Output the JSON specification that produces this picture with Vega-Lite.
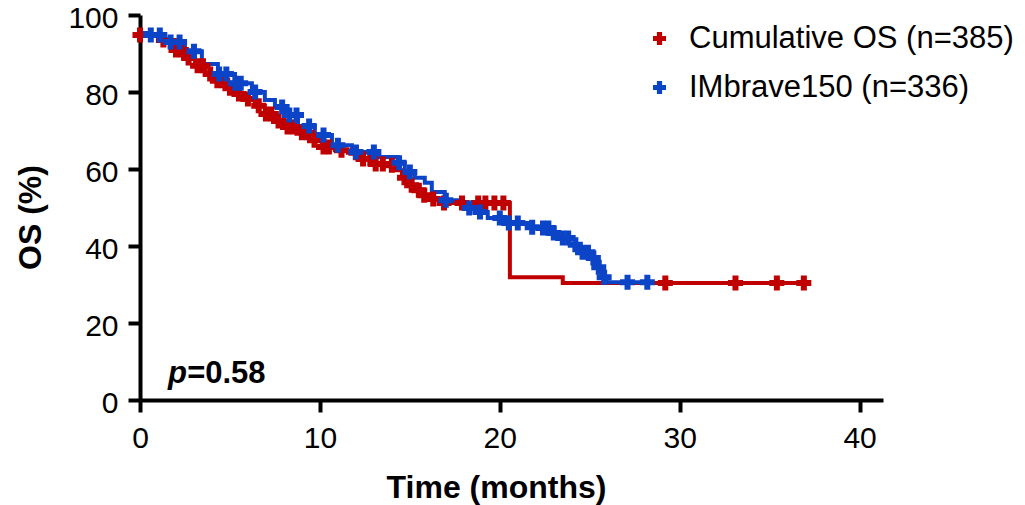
{
  "$schema": "https://vega.github.io/schema/vega-lite/v6.json",
  "width": 743,
  "height": 385,
  "autosize": "none",
  "padding": {"left": 140, "top": 15, "right": 142, "bottom": 105},
  "background": "white",
  "config": {
    "font": "Liberation Sans",
    "view": {"stroke": null},
    "axis": {
      "grid": false,
      "domainColor": "black",
      "domainWidth": 4,
      "tickColor": "black",
      "tickWidth": 4,
      "tickSize": 12,
      "labelFont": "Liberation Sans",
      "labelFontSize": 30,
      "labelColor": "black",
      "titleFont": "Liberation Sans",
      "titleFontSize": 32,
      "titleFontWeight": "bold",
      "titleColor": "black"
    }
  },
  "datasets": {
    "steps": [
      {"series": "Cumulative OS (n=385)", "t": 0, "s": 94.8},
      {"series": "Cumulative OS (n=385)", "t": 1.11, "s": 93.5},
      {"series": "Cumulative OS (n=385)", "t": 1.94, "s": 90.9},
      {"series": "Cumulative OS (n=385)", "t": 2.5, "s": 88.8},
      {"series": "Cumulative OS (n=385)", "t": 3.06, "s": 86.8},
      {"series": "Cumulative OS (n=385)", "t": 3.61, "s": 84.7},
      {"series": "Cumulative OS (n=385)", "t": 4.17, "s": 82.9},
      {"series": "Cumulative OS (n=385)", "t": 4.72, "s": 81.0},
      {"series": "Cumulative OS (n=385)", "t": 5.28, "s": 79.5},
      {"series": "Cumulative OS (n=385)", "t": 5.83, "s": 78.2},
      {"series": "Cumulative OS (n=385)", "t": 6.39, "s": 76.4},
      {"series": "Cumulative OS (n=385)", "t": 6.94, "s": 74.3},
      {"series": "Cumulative OS (n=385)", "t": 7.5, "s": 72.5},
      {"series": "Cumulative OS (n=385)", "t": 8.06, "s": 70.9},
      {"series": "Cumulative OS (n=385)", "t": 8.78, "s": 69.4},
      {"series": "Cumulative OS (n=385)", "t": 9.44, "s": 67.5},
      {"series": "Cumulative OS (n=385)", "t": 10.11, "s": 65.7},
      {"series": "Cumulative OS (n=385)", "t": 10.83, "s": 64.9},
      {"series": "Cumulative OS (n=385)", "t": 11.56, "s": 64.2},
      {"series": "Cumulative OS (n=385)", "t": 12.22, "s": 62.6},
      {"series": "Cumulative OS (n=385)", "t": 12.89, "s": 61.3},
      {"series": "Cumulative OS (n=385)", "t": 13.61, "s": 61.0},
      {"series": "Cumulative OS (n=385)", "t": 14.17, "s": 59.7},
      {"series": "Cumulative OS (n=385)", "t": 14.56, "s": 57.7},
      {"series": "Cumulative OS (n=385)", "t": 14.89, "s": 55.8},
      {"series": "Cumulative OS (n=385)", "t": 15.28, "s": 54.5},
      {"series": "Cumulative OS (n=385)", "t": 15.67, "s": 53.2},
      {"series": "Cumulative OS (n=385)", "t": 16.11, "s": 52.2},
      {"series": "Cumulative OS (n=385)", "t": 16.67, "s": 51.2},
      {"series": "Cumulative OS (n=385)", "t": 20.56, "s": 31.9},
      {"series": "Cumulative OS (n=385)", "t": 23.5, "s": 30.4},
      {"series": "Cumulative OS (n=385)", "t": 36.94, "s": 30.4},
      {"series": "IMbrave150 (n=336)", "t": 0, "s": 95.3},
      {"series": "IMbrave150 (n=336)", "t": 0.56, "s": 94.8},
      {"series": "IMbrave150 (n=336)", "t": 1.39, "s": 93.0},
      {"series": "IMbrave150 (n=336)", "t": 2.5, "s": 90.6},
      {"series": "IMbrave150 (n=336)", "t": 3.44, "s": 87.3},
      {"series": "IMbrave150 (n=336)", "t": 4.33, "s": 84.7},
      {"series": "IMbrave150 (n=336)", "t": 5.28, "s": 82.3},
      {"series": "IMbrave150 (n=336)", "t": 6.22, "s": 80.0},
      {"series": "IMbrave150 (n=336)", "t": 6.94, "s": 77.9},
      {"series": "IMbrave150 (n=336)", "t": 7.5, "s": 76.1},
      {"series": "IMbrave150 (n=336)", "t": 8.06, "s": 74.0},
      {"series": "IMbrave150 (n=336)", "t": 8.78, "s": 71.2},
      {"series": "IMbrave150 (n=336)", "t": 9.72, "s": 68.8},
      {"series": "IMbrave150 (n=336)", "t": 10.67, "s": 66.2},
      {"series": "IMbrave150 (n=336)", "t": 11.78, "s": 64.4},
      {"series": "IMbrave150 (n=336)", "t": 13.06, "s": 63.1},
      {"series": "IMbrave150 (n=336)", "t": 14.33, "s": 61.6},
      {"series": "IMbrave150 (n=336)", "t": 14.72, "s": 59.2},
      {"series": "IMbrave150 (n=336)", "t": 15.28, "s": 57.7},
      {"series": "IMbrave150 (n=336)", "t": 15.83, "s": 56.4},
      {"series": "IMbrave150 (n=336)", "t": 16.22, "s": 54.0},
      {"series": "IMbrave150 (n=336)", "t": 16.94, "s": 51.9},
      {"series": "IMbrave150 (n=336)", "t": 17.89, "s": 49.9},
      {"series": "IMbrave150 (n=336)", "t": 18.61, "s": 48.8},
      {"series": "IMbrave150 (n=336)", "t": 19.33, "s": 47.3},
      {"series": "IMbrave150 (n=336)", "t": 20.28, "s": 46.0},
      {"series": "IMbrave150 (n=336)", "t": 21.56, "s": 44.9},
      {"series": "IMbrave150 (n=336)", "t": 22.39, "s": 44.7},
      {"series": "IMbrave150 (n=336)", "t": 22.94, "s": 43.4},
      {"series": "IMbrave150 (n=336)", "t": 23.33, "s": 42.1},
      {"series": "IMbrave150 (n=336)", "t": 23.89, "s": 40.3},
      {"series": "IMbrave150 (n=336)", "t": 24.44, "s": 38.4},
      {"series": "IMbrave150 (n=336)", "t": 25.0, "s": 36.9},
      {"series": "IMbrave150 (n=336)", "t": 25.39, "s": 34.5},
      {"series": "IMbrave150 (n=336)", "t": 25.67, "s": 31.9},
      {"series": "IMbrave150 (n=336)", "t": 25.94, "s": 30.6},
      {"series": "IMbrave150 (n=336)", "t": 28.17, "s": 30.6}
    ],
    "censor": [
      {"series": "Cumulative OS (n=385)", "t": 0, "s": 94.8},
      {"series": "Cumulative OS (n=385)", "t": 1.3, "s": 93.5},
      {"series": "Cumulative OS (n=385)", "t": 2.0, "s": 90.9},
      {"series": "Cumulative OS (n=385)", "t": 2.3, "s": 90.9},
      {"series": "Cumulative OS (n=385)", "t": 2.7, "s": 88.8},
      {"series": "Cumulative OS (n=385)", "t": 3.2, "s": 86.8},
      {"series": "Cumulative OS (n=385)", "t": 3.5, "s": 86.8},
      {"series": "Cumulative OS (n=385)", "t": 3.9, "s": 84.7},
      {"series": "Cumulative OS (n=385)", "t": 4.3, "s": 82.9},
      {"series": "Cumulative OS (n=385)", "t": 4.6, "s": 82.9},
      {"series": "Cumulative OS (n=385)", "t": 5.0, "s": 81.0},
      {"series": "Cumulative OS (n=385)", "t": 5.5, "s": 79.5},
      {"series": "Cumulative OS (n=385)", "t": 6.0, "s": 78.2},
      {"series": "Cumulative OS (n=385)", "t": 6.6, "s": 76.4},
      {"series": "Cumulative OS (n=385)", "t": 7.0, "s": 74.3},
      {"series": "Cumulative OS (n=385)", "t": 7.3, "s": 74.3},
      {"series": "Cumulative OS (n=385)", "t": 7.7, "s": 72.5},
      {"series": "Cumulative OS (n=385)", "t": 8.2, "s": 70.9},
      {"series": "Cumulative OS (n=385)", "t": 8.5, "s": 70.9},
      {"series": "Cumulative OS (n=385)", "t": 9.0, "s": 69.4},
      {"series": "Cumulative OS (n=385)", "t": 9.3, "s": 69.4},
      {"series": "Cumulative OS (n=385)", "t": 9.7, "s": 67.5},
      {"series": "Cumulative OS (n=385)", "t": 10.2, "s": 65.7},
      {"series": "Cumulative OS (n=385)", "t": 10.5, "s": 65.7},
      {"series": "Cumulative OS (n=385)", "t": 11.2, "s": 64.9},
      {"series": "Cumulative OS (n=385)", "t": 12.0, "s": 64.2},
      {"series": "Cumulative OS (n=385)", "t": 12.4, "s": 62.6},
      {"series": "Cumulative OS (n=385)", "t": 12.8, "s": 62.6},
      {"series": "Cumulative OS (n=385)", "t": 13.1, "s": 61.3},
      {"series": "Cumulative OS (n=385)", "t": 13.5, "s": 61.3},
      {"series": "Cumulative OS (n=385)", "t": 14.0, "s": 61.0},
      {"series": "Cumulative OS (n=385)", "t": 14.7, "s": 57.7},
      {"series": "Cumulative OS (n=385)", "t": 15.1, "s": 55.8},
      {"series": "Cumulative OS (n=385)", "t": 15.5, "s": 54.5},
      {"series": "Cumulative OS (n=385)", "t": 15.8, "s": 53.2},
      {"series": "Cumulative OS (n=385)", "t": 16.3, "s": 52.2},
      {"series": "Cumulative OS (n=385)", "t": 16.9, "s": 51.2},
      {"series": "Cumulative OS (n=385)", "t": 17.9, "s": 51.2},
      {"series": "Cumulative OS (n=385)", "t": 18.8, "s": 51.2},
      {"series": "Cumulative OS (n=385)", "t": 19.2, "s": 51.2},
      {"series": "Cumulative OS (n=385)", "t": 19.7, "s": 51.2},
      {"series": "Cumulative OS (n=385)", "t": 20.2, "s": 51.2},
      {"series": "Cumulative OS (n=385)", "t": 29.2, "s": 30.4},
      {"series": "Cumulative OS (n=385)", "t": 33.1, "s": 30.4},
      {"series": "Cumulative OS (n=385)", "t": 35.4, "s": 30.4},
      {"series": "Cumulative OS (n=385)", "t": 36.9, "s": 30.4},
      {"series": "IMbrave150 (n=336)", "t": 0.6, "s": 94.8},
      {"series": "IMbrave150 (n=336)", "t": 1.1, "s": 94.8},
      {"series": "IMbrave150 (n=336)", "t": 1.7, "s": 93.0},
      {"series": "IMbrave150 (n=336)", "t": 2.2, "s": 93.0},
      {"series": "IMbrave150 (n=336)", "t": 3.0, "s": 90.6},
      {"series": "IMbrave150 (n=336)", "t": 4.4, "s": 84.7},
      {"series": "IMbrave150 (n=336)", "t": 4.8, "s": 84.7},
      {"series": "IMbrave150 (n=336)", "t": 5.3, "s": 82.3},
      {"series": "IMbrave150 (n=336)", "t": 5.6, "s": 82.3},
      {"series": "IMbrave150 (n=336)", "t": 6.4, "s": 80.0},
      {"series": "IMbrave150 (n=336)", "t": 7.9, "s": 76.1},
      {"series": "IMbrave150 (n=336)", "t": 8.3, "s": 74.0},
      {"series": "IMbrave150 (n=336)", "t": 8.7, "s": 74.0},
      {"series": "IMbrave150 (n=336)", "t": 9.4, "s": 71.2},
      {"series": "IMbrave150 (n=336)", "t": 10.2, "s": 68.8},
      {"series": "IMbrave150 (n=336)", "t": 11.0, "s": 66.2},
      {"series": "IMbrave150 (n=336)", "t": 12.0, "s": 64.4},
      {"series": "IMbrave150 (n=336)", "t": 13.0, "s": 64.4},
      {"series": "IMbrave150 (n=336)", "t": 14.4, "s": 61.6},
      {"series": "IMbrave150 (n=336)", "t": 15.0, "s": 59.2},
      {"series": "IMbrave150 (n=336)", "t": 17.0, "s": 51.9},
      {"series": "IMbrave150 (n=336)", "t": 18.3, "s": 49.9},
      {"series": "IMbrave150 (n=336)", "t": 18.9, "s": 48.8},
      {"series": "IMbrave150 (n=336)", "t": 20.0, "s": 47.3},
      {"series": "IMbrave150 (n=336)", "t": 20.5, "s": 46.0},
      {"series": "IMbrave150 (n=336)", "t": 21.0, "s": 46.0},
      {"series": "IMbrave150 (n=336)", "t": 21.8, "s": 44.9},
      {"series": "IMbrave150 (n=336)", "t": 22.4, "s": 44.7},
      {"series": "IMbrave150 (n=336)", "t": 22.7, "s": 44.7},
      {"series": "IMbrave150 (n=336)", "t": 23.0, "s": 43.4},
      {"series": "IMbrave150 (n=336)", "t": 23.5, "s": 42.1},
      {"series": "IMbrave150 (n=336)", "t": 23.8, "s": 42.1},
      {"series": "IMbrave150 (n=336)", "t": 24.2, "s": 40.3},
      {"series": "IMbrave150 (n=336)", "t": 24.6, "s": 38.4},
      {"series": "IMbrave150 (n=336)", "t": 24.9, "s": 38.4},
      {"series": "IMbrave150 (n=336)", "t": 25.2, "s": 36.9},
      {"series": "IMbrave150 (n=336)", "t": 25.5, "s": 34.5},
      {"series": "IMbrave150 (n=336)", "t": 25.8, "s": 31.9},
      {"series": "IMbrave150 (n=336)", "t": 27.1, "s": 30.6},
      {"series": "IMbrave150 (n=336)", "t": 28.2, "s": 30.6}
    ],
    "notes": [
      {"part": "p", "t": 1.56, "s": 4.4},
      {"part": "=0.58", "t": 2.62, "s": 4.4}
    ]
  },
  "resolve": {"legend": {"color": "independent"}},
  "layer": [
    {
      "data": {"name": "steps"},
      "transform": [{"filter": "datum.series === 'Cumulative OS (n=385)'"}],
      "mark": {"type": "line", "interpolate": "step-after", "strokeWidth": 4},
      "encoding": {
        "x": {
          "field": "t", "type": "quantitative",
          "scale": {"domain": [0, 41.3], "nice": false, "zero": false},
          "axis": {"values": [0, 10, 20, 30, 40], "title": "Time (months)", "labelPadding": 11, "titlePadding": 19, "titleX": 356, "labelFlush": false}
        },
        "y": {
          "field": "s", "type": "quantitative",
          "scale": {"domain": [0, 100], "nice": false},
          "axis": {"values": [0, 20, 40, 60, 80, 100], "title": "OS (%)", "labelPadding": 10, "labelOffset": 3, "titlePadding": 20, "titleY": 202}
        },
        "color": {
          "field": "series", "type": "nominal",
          "scale": {"domain": ["Cumulative OS (n=385)", "IMbrave150 (n=336)"], "range": ["#C00000", "#0C44C8"]},
          "legend": null
        }
      }
    },
    {
      "data": {"name": "steps"},
      "transform": [{"filter": "datum.series === 'IMbrave150 (n=336)'"}],
      "mark": {"type": "line", "interpolate": "step-after", "strokeWidth": 4},
      "encoding": {
        "x": {"field": "t", "type": "quantitative"},
        "y": {"field": "s", "type": "quantitative"},
        "color": {"field": "series", "type": "nominal", "legend": null}
      }
    },
    {
      "data": {"name": "censor"},
      "transform": [{"filter": "datum.series === 'Cumulative OS (n=385)'"}],
      "mark": {"type": "point", "shape": "cross", "filled": true, "size": 225, "opacity": 1, "strokeWidth": 0},
      "encoding": {
        "x": {"field": "t", "type": "quantitative"},
        "y": {"field": "s", "type": "quantitative"},
        "color": {
          "field": "series", "type": "nominal",
          "legend": {
            "title": null, "orient": "none", "legendX": 504, "legendY": 8,
            "symbolType": "cross", "symbolSize": 170, "symbolStrokeWidth": 0, "symbolOpacity": 1,
            "labelFontSize": 31, "labelFont": "Liberation Sans", "labelColor": "black",
            "labelOffset": 14, "rowPadding": 17, "labelLimit": 600,
            "values": ["Cumulative OS (n=385)", "IMbrave150 (n=336)"]
          }
        }
      }
    },
    {
      "data": {"name": "censor"},
      "transform": [{"filter": "datum.series === 'IMbrave150 (n=336)'"}],
      "mark": {"type": "point", "shape": "cross", "filled": true, "size": 225, "opacity": 1, "strokeWidth": 0},
      "encoding": {
        "x": {"field": "t", "type": "quantitative"},
        "y": {"field": "s", "type": "quantitative"},
        "color": {"field": "series", "type": "nominal", "legend": null}
      }
    },
    {
      "data": {"name": "notes"},
      "transform": [{"filter": "datum.part === 'p'"}],
      "mark": {"type": "text", "font": "Liberation Sans", "fontSize": 31, "fontWeight": "bold", "fontStyle": "italic", "align": "left", "baseline": "alphabetic", "color": "black"},
      "encoding": {
        "x": {"field": "t", "type": "quantitative"},
        "y": {"field": "s", "type": "quantitative"},
        "text": {"field": "part"}
      }
    },
    {
      "data": {"name": "notes"},
      "transform": [{"filter": "datum.part !== 'p'"}],
      "mark": {"type": "text", "font": "Liberation Sans", "fontSize": 31, "fontWeight": "bold", "align": "left", "baseline": "alphabetic", "color": "black"},
      "encoding": {
        "x": {"field": "t", "type": "quantitative"},
        "y": {"field": "s", "type": "quantitative"},
        "text": {"field": "part"}
      }
    }
  ]
}
